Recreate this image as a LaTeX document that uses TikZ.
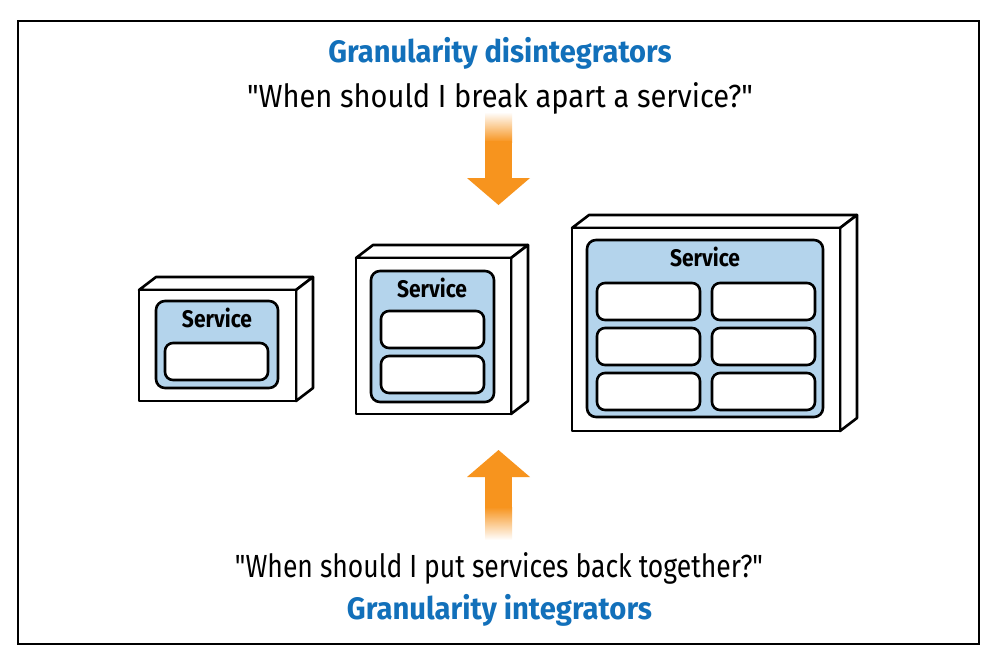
\documentclass[tikz,border=0pt]{standalone}
\usepackage{fontspec}
\setmainfont{Fira Sans}
\definecolor{ttlblue}{RGB}{18,112,186}
\definecolor{svcblue}{RGB}{180,212,236}
\definecolor{arrorange}{RGB}{247,148,30}
\newcommand{\fitw}[2]{\resizebox{#1}{\height}{#2}}
\begin{document}
\begin{tikzpicture}[x=1pt,y=-1pt,
  face/.style={draw=black,fill=white,line width=2.6pt,line join=round},
  svcbox/.style={draw=black,fill=svcblue,line width=2.6pt,rounded corners=9pt},
  slot/.style={draw=black,fill=white,line width=2.6pt,rounded corners=8pt},
  svclabel/.style={font=\fontsize{24}{26}\selectfont\bfseries,inner sep=0pt,anchor=base},
  title/.style={font=\fontsize{31}{34}\selectfont\bfseries,text=ttlblue,inner sep=0pt,anchor=base},
  quote/.style={font=\fontsize{32}{34}\selectfont,inner sep=0pt,anchor=base},
  arr/.style={fill=arrorange,draw=none}]
\useasboundingbox (0,0) rectangle (990,657);
\fill[white] (0,0) rectangle (990,657);
\draw[line width=1.3pt] (18,21) rectangle (979,644);

% texts
\node[title] (t1) at (500,62) {\fitw{343pt}{Granularity disintegrators}};
\node[quote] (q1) at (500,107) {\fitw{506pt}{\textquotedbl When should I break apart a service?\textquotedbl}};
\node[quote] (q2) at (499,577) {\fitw{528pt}{\textquotedbl When should I put services back together?\textquotedbl}};
\node[title] (t2) at (499.5,619) {\fitw{305pt}{Granularity integrators}};

% top arrow
\shade[top color=white,bottom color=arrorange] (485,112) rectangle (512,142);
\fill[arr] (485,141) rectangle (512,179);
\fill[arr] (467,178) -- (530,178) -- (498.5,205) -- cycle;
% bottom arrow
\shade[top color=arrorange,bottom color=white] (485,507) rectangle (512,540);
\fill[arr] (485,476) rectangle (512,508);
\fill[arr] (467,477) -- (530,477) -- (498.5,450) -- cycle;

% small box
\draw[face] (139,290) -- (156,277) -- (313,277) -- (296,290) -- cycle;
\draw[face] (296,290) -- (313,277) -- (313,388) -- (296,401) -- cycle;
\draw[face] (139,290) rectangle (296,401);
\draw[svcbox] (156,301) rectangle (278,388);
\node[svclabel] (s1) at (217,327) {\fitw{70pt}{Service}};
\draw[slot] (165,343) rectangle (268,380);

% middle box
\draw[face] (356,258) -- (373,245) -- (528,245) -- (511,258) -- cycle;
\draw[face] (511,258) -- (528,245) -- (528,401) -- (511,414) -- cycle;
\draw[face] (356,258) rectangle (511,414);
\draw[svcbox] (371,271) rectangle (494,402);
\node[svclabel] (s2) at (432,297) {\fitw{70pt}{Service}};
\draw[slot] (381,311) rectangle (484,348);
\draw[slot] (381,356) rectangle (484,393);

% large box
\draw[face] (572,228) -- (589,215) -- (857,215) -- (840,228) -- cycle;
\draw[face] (840,228) -- (857,215) -- (857,418) -- (840,431) -- cycle;
\draw[face] (572,228) rectangle (840,431);
\draw[svcbox] (587,240) rectangle (823,417);
\node[svclabel] (s3) at (705,266) {\fitw{70pt}{Service}};
\foreach \ya/\yb in {283/320,328/365,373/410}{
  \draw[slot] (597,\ya) rectangle (700,\yb);
  \draw[slot] (712,\ya) rectangle (815,\yb);
}
\end{tikzpicture}
\end{document}
